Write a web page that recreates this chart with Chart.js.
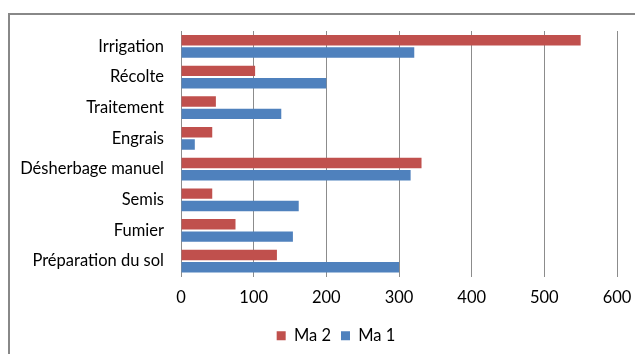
<!DOCTYPE html>
<html>
<head>
<meta charset="utf-8">
<script src="https://cdn.jsdelivr.net/npm/chart.js@4"></script>
<style>
  html, body { margin: 0; padding: 0; background: #fff; }
  #wrap { position: relative; width: 635px; height: 354px; overflow: hidden; }
  #frame { position: absolute; left: 8px; top: 13px; width: 700px; height: 400px;
           border-top: 2px solid #888; border-left: 2px solid #888; box-sizing: border-box; }
  canvas { position: absolute; left: 0; top: 0; }
</style>
</head>
<body>
<div id="wrap">
  <div id="frame"></div>
  <canvas id="c" width="635" height="354"></canvas>
</div>
<script>
// Operations, top to bottom
const categories = ['Irrigation', 'Récolte', 'Traitement', 'Engrais', 'Désherbage manuel', 'Semis', 'Fumier', 'Préparation du sol'];
const ma2 = [550, 102, 48, 43, 331, 43, 75, 132];
const ma1 = [321, 200, 138, 19, 316, 162, 154, 300];
const xTicks = [0, 100, 200, 300, 400, 500, 600];

const FONT = 'Lato';
const FONT_SIZE = 16.5;
const LEGEND_SHIFT = 37; // legend sits a little right of the canvas centre

// Narrows the legend's box from the left so its items centre further right
const legendOffset = {
  id: 'legendOffset',
  afterLayout(chart) {
    if (chart.legend) chart.legend.left += LEGEND_SHIFT;
  }
};

new Chart(document.getElementById('c'), {
  type: 'bar',
  data: {
    labels: categories,
    datasets: [
      { label: 'Ma 2', data: ma2, backgroundColor: '#C0504D', categoryPercentage: 0.8, barPercentage: 0.85 },
      { label: 'Ma 1', data: ma1, backgroundColor: '#4F81BD', categoryPercentage: 0.8, barPercentage: 0.85 }
    ]
  },
  plugins: [legendOffset],
  options: {
    indexAxis: 'y',
    responsive: false,
    animation: false,
    layout: { padding: { top: 31, right: 0, bottom: 0, left: 0 } },
    scales: {
      x: {
        min: xTicks[0],
        max: xTicks[xTicks.length - 1],
        afterBuildTicks: s => { s.ticks = xTicks.map(v => ({ value: v })); },
        afterFit: s => { s.height = 41; s.paddingRight = 18; },
        grid: { color: '#8c8c8c', lineWidth: 1, drawTicks: false },
        border: { display: false },
        ticks: { padding: 11, color: '#000', font: { family: FONT, size: FONT_SIZE } }
      },
      y: {
        afterFit: s => { s.width = 181; },
        grid: { display: false, drawTicks: false },
        border: { display: false },
        ticks: { padding: 17, color: '#000', font: { family: FONT, size: FONT_SIZE } }
      }
    },
    plugins: {
      legend: {
        position: 'bottom',
        labels: { boxWidth: 9, boxHeight: 9, padding: 10, color: '#000', font: { family: FONT, size: FONT_SIZE } }
      },
      tooltip: { enabled: false }
    }
  }
});
</script>
</body>
</html>
